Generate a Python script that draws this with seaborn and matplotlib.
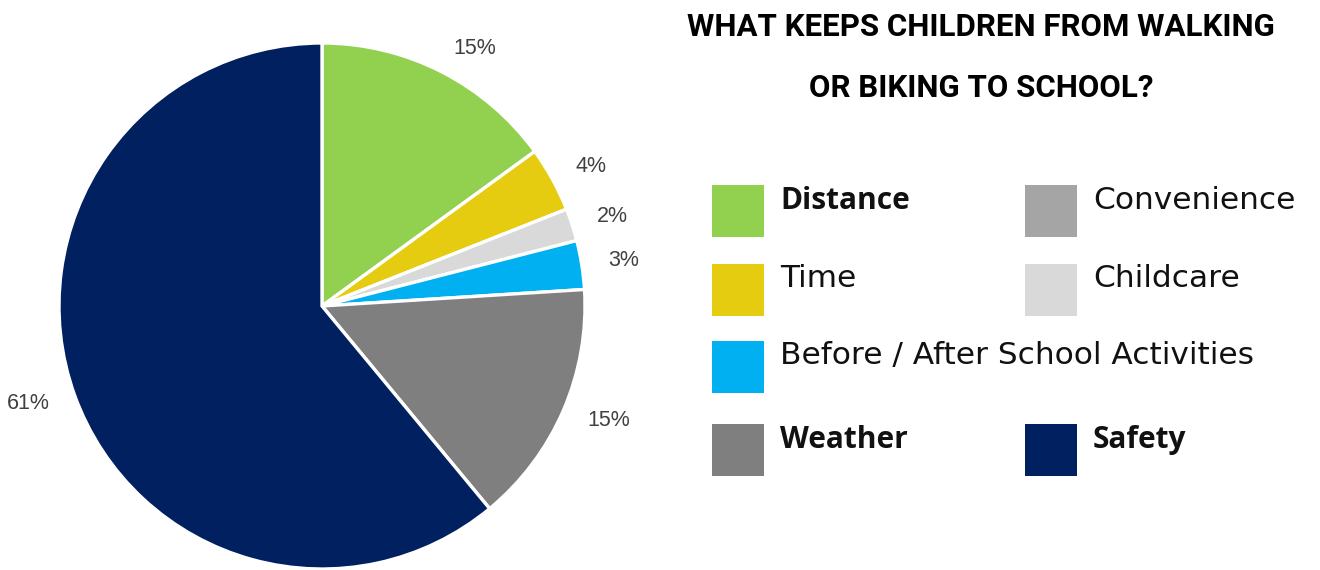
import matplotlib
matplotlib.use("Agg")
import matplotlib.pyplot as plt
import seaborn as sns
from matplotlib.patches import Rectangle

# Survey answers: what keeps children from walking or biking to school
categories = ["Distance", "Convenience", "Time", "Childcare",
              "Before / After School Activities", "Weather", "Safety"]
shares = [15, 0, 4, 2, 3, 15, 61]          # percent of respondents
colors = ["#92D050", "#A5A5A5", "#E6CC10", "#D9D9D9",
          "#00B0F0", "#7F7F7F", "#002060"]
bold_labels = {"Distance", "Weather", "Safety"}

# order of the wedges, clockwise from twelve o'clock
pie_order = ["Distance", "Time", "Convenience", "Childcare",
             "Before / After School Activities", "Weather", "Safety"]

title_lines = ["WHAT KEEPS CHILDREN FROM WALKING", "OR BIKING TO SCHOOL?"]

sns.set_theme(style="white")
plt.rcParams["font.family"] = ["Liberation Sans", "DejaVu Sans"]

W, H = 1320, 570
fig = plt.figure(figsize=(W / 100, H / 100), dpi=100)
fig.patch.set_facecolor("white")

# ---- pie -------------------------------------------------------------
cx, cy, r = 322, 306, 263
ax = fig.add_axes([(cx - r) / W, (H - cy - r) / H, 2 * r / W, 2 * r / H])
lookup = dict(zip(categories, zip(shares, colors)))
vals = [lookup[c][0] for c in pie_order if lookup[c][0] > 0]
cols = [lookup[c][1] for c in pie_order if lookup[c][0] > 0]
wedges, texts = ax.pie(
    vals, colors=cols, startangle=90, counterclock=False, radius=1,
    labels=[f"{v}%" for v in vals], labeldistance=1.1,
    wedgeprops=dict(edgecolor="white", linewidth=2.4),
    textprops=dict(fontsize=15.5, color="#404040", family="Liberation Sans"),
)
ax.set_xlim(-1, 1)
ax.set_ylim(-1, 1)
ax.set_aspect("equal")
ax.axis("off")

# ---- title and legend, laid out in pixel units --------------------------
ov = fig.add_axes([0, 0, 1, 1], zorder=-1)
ov.set_xlim(0, W)
ov.set_ylim(H, 0)
ov.axis("off")

for base, line in zip([36, 97], title_lines):
    ov.text(981, base, line, ha="center", va="baseline", fontsize=22.5,
            fontweight="bold", color="black", family="Roboto")

# legend slots: (column x, square top, text baseline)
slot = {
    "Distance": (712, 185, 209),
    "Convenience": (1025, 185, 209),
    "Time": (712, 264, 287),
    "Childcare": (1025, 264, 287),
    "Before / After School Activities": (712, 341, 364),
    "Weather": (712, 424, 448),
    "Safety": (1025, 424, 448),
}
for cat, col in zip(categories, colors):
    x, top, base = slot[cat]
    ov.add_patch(Rectangle((x, top), 52, 52, facecolor=col, edgecolor="none"))
    if cat in bold_labels:
        ov.text(x + 68, base, cat, ha="left", va="baseline", fontsize=21.5,
                color="#111111", family="Open Sans", fontweight="bold")
    else:
        ov.text(x + 68, base, cat, ha="left", va="baseline", fontsize=22.5,
                color="#111111", family="DejaVu Sans")

fig.savefig("out.png", dpi=100, facecolor="white")
